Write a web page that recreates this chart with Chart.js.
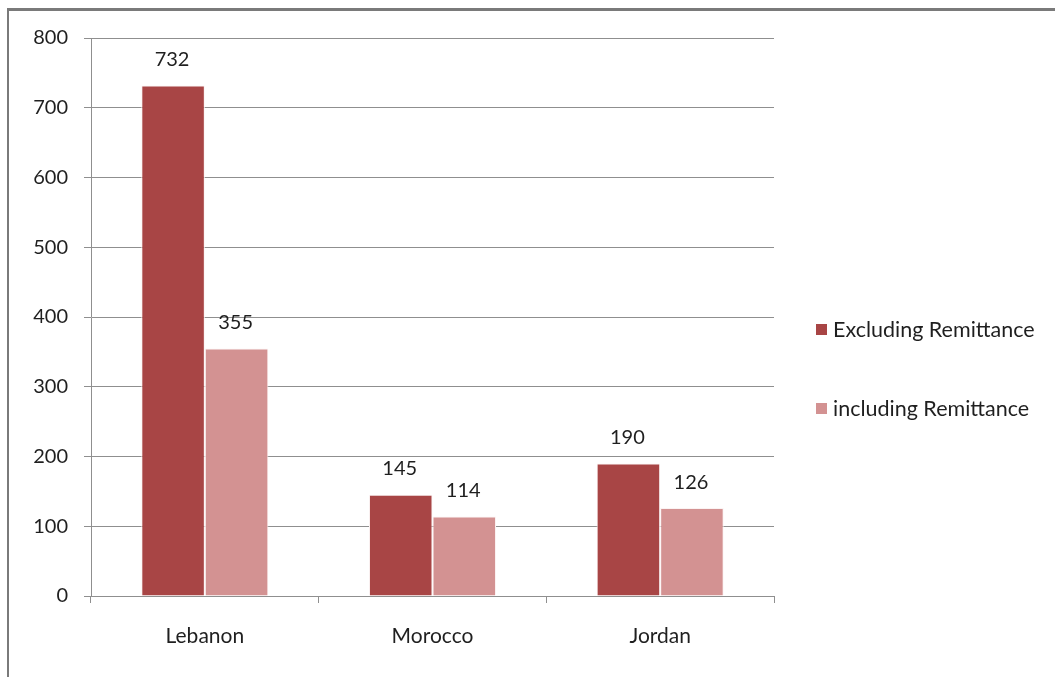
<!DOCTYPE html>
<html>
<head>
<meta charset="utf-8">
<script src="https://cdn.jsdelivr.net/npm/chart.js@4.4.1/dist/chart.umd.min.js"></script>
<style>
  html, body { margin: 0; padding: 0; background: #fff; overflow: hidden; }
  #wrap { position: relative; width: 1055px; height: 677px; }
  #frame { position: absolute; left: 7px; top: 8px; width: 2000px; height: 2000px;
           border-left: 2px solid #7a7a7a; border-top: 3px solid #7a7a7a; pointer-events: none; }
</style>
</head>
<body>
<div id="wrap">
  <canvas id="chart" width="1055" height="677"></canvas>
  <div id="frame"></div>
</div>
<script>
const countries = ['Lebanon', 'Morocco', 'Jordan'];
const excluding = [732, 145, 190];
const including = [355, 114, 126];
const seriesNames = ['Excluding Remittance', 'including Remittance'];
const yTicks = [0, 100, 200, 300, 400, 500, 600, 700, 800];

const DARK = '#a84545';
const LIGHT = '#d39292';
const GRID = '#8f8f8f';
const TEXT = '#1f1f1f';
const FONT = 'Lato, "Open Sans", sans-serif';

// value labels above each bar
const barLabels = {
    id: 'barLabels',
    afterDatasetsDraw(chart) {
        const ctx = chart.ctx;
        ctx.save();
        ctx.font = '20px ' + FONT;
        ctx.fillStyle = TEXT;
        ctx.textAlign = 'center';
        ctx.textBaseline = 'middle';
        chart.data.datasets.forEach((ds, i) => {
            chart.getDatasetMeta(i).data.forEach((bar, j) => {
                ctx.fillText(ds.data[j], bar.x - 1, bar.y - 26);
            });
        });
        ctx.restore();
    }
};

// legend at the right, spaced like the original
const sideLegend = {
    id: 'sideLegend',
    afterDraw(chart) {
        const ctx = chart.ctx;
        const rows = [330, 409];
        ctx.save();
        ctx.font = '21.5px ' + FONT;
        ctx.textBaseline = 'middle';
        chart.data.datasets.forEach((ds, i) => {
            ctx.fillStyle = ds.backgroundColor;
            ctx.fillRect(816, rows[i] - 6, 11, 11);
            ctx.fillStyle = TEXT;
            ctx.fillText(ds.label, 833, rows[i]);
        });
        ctx.restore();
    }
};

new Chart(document.getElementById('chart'), {
    type: 'bar',
    data: {
        labels: countries,
        datasets: [
            { label: seriesNames[0], data: excluding, backgroundColor: DARK, borderColor: '#fbf3f3', borderWidth: 1 },
            { label: seriesNames[1], data: including, backgroundColor: LIGHT, borderColor: '#fbf3f3', borderWidth: 1 }
        ]
    },
    options: {
        responsive: false,
        animation: false,
        layout: { padding: { left: 33, right: 281, top: 38, bottom: 29 } },
        categoryPercentage: 0.558,
        barPercentage: 1,
        plugins: { legend: { display: false }, tooltip: { enabled: false } },
        scales: {
            x: {
                grid: { offset: true, drawOnChartArea: false, color: GRID, tickLength: 7 },
                border: { color: GRID },
                ticks: { color: TEXT, font: { family: FONT, size: 21 }, padding: 21 },
                afterFit(scale) { scale.height = 52; }
            },
            y: {
                min: 0,
                max: 800,
                afterBuildTicks(scale) { scale.ticks = yTicks.map(v => ({ value: v })); },
                grid: { color: GRID, tickLength: 7 },
                border: { color: GRID },
                ticks: { color: TEXT, font: { family: FONT, size: 20 }, padding: 16 },
                afterFit(scale) { scale.width = 58; }
            }
        }
    },
    plugins: [barLabels, sideLegend]
});
</script>
</body>
</html>
